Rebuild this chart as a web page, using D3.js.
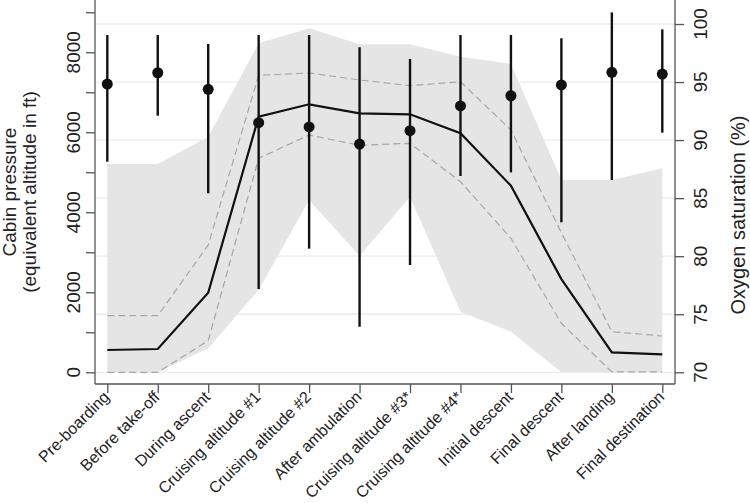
<!DOCTYPE html>
<html>
<head>
<meta charset="utf-8">
<script src="https://cdn.jsdelivr.net/npm/d3@7"></script>
<style>
  html, body { margin: 0; padding: 0; background: #fff; }
  text { font-family: "Liberation Sans", Arial, Helvetica, sans-serif; fill: #222; }
</style>
</head>
<body>
<svg id="chart" width="750" height="503"></svg>
<script>
// ---- data ----
const categories = ["Pre-boarding", "Before take-off", "During ascent", "Cruising altitude #1",
  "Cruising altitude #2", "After ambulation", "Cruising altitude #3*", "Cruising altitude #4*",
  "Initial descent", "Final descent", "After landing", "Final destination"];
// cabin pressure (equivalent altitude in ft)
const cabinMedian = [557, 582, 1990, 6390, 6700, 6475, 6450, 5975, 4665, 2330, 500, 450];
const cabinQ1     = [0, 0, 790, 5350, 5933, 5675, 5725, 4765, 3350, 1225, 10, 10];
const cabinQ3     = [1415, 1415, 3183, 7425, 7483, 7308, 7165, 7265, 6058, 3490, 1015, 908];
const cabinMin    = [0, 0, 600, 2058, 4308, 2908, 4390, 1515, 1015, 0, 0, 0];
const cabinMax    = [5208, 5208, 5890, 8225, 8600, 8200, 8200, 7890, 7708, 4808, 4808, 5100];
// oxygen saturation (%)
const spo2Mean = [94.83, 95.8, 94.37, 91.5, 91.13, 89.66, 90.81, 92.94, 93.82, 94.75, 95.84, 95.69];
const spo2Low  = [88.14, 92.1, 85.42, 77.17, 80.65, 73.93, 79.24, 86.91, 87.22, 82.92, 86.56, 90.64];
const spo2High = [99.05, 99.05, 98.28, 99.05, 99.05, 97.99, 96.99, 99.05, 99.05, 98.77, 101.0, 99.54];
const leftTicks = [0, 1000, 2000, 3000, 4000, 5000, 6000, 7000, 8000, 9000];
const leftTickLabels = [0, 2000, 4000, 6000, 8000];
const rightTicks = [70, 75, 80, 85, 90, 95, 100];

// ---- layout ----
const svg = d3.select("#chart");
const plotL = 95, plotR = 675, axisY = 384;
const x = d3.scalePoint().domain(categories).range([107.3, 662.3]);
const yL = d3.scaleLinear().domain([0, 9000]).range([372.3, 12.3]);
const yR = d3.scaleLinear().domain([70, 100]).range([372.3, 24]);

const rows = categories.map((c, i) => ({
  c, med: cabinMedian[i], q1: cabinQ1[i], q3: cabinQ3[i], mn: cabinMin[i], mx: cabinMax[i],
  m: spo2Mean[i], lo: spo2Low[i], hi: spo2High[i]
}));

// gridlines (right axis)
svg.append("g").selectAll("line").data(rightTicks).join("line")
  .attr("x1", plotL).attr("x2", plotR)
  .attr("y1", d => yR(d)).attr("y2", d => yR(d))
  .attr("stroke", "#ececec").attr("stroke-width", 1.3);

// band min-max
svg.append("path").datum(rows)
  .attr("d", d3.area().x(d => x(d.c)).y0(d => yL(d.mn)).y1(d => yL(d.mx)))
  .attr("fill", "#e5e5e5");

// dashed IQR lines
[ "q1", "q3" ].forEach(k => {
  svg.append("path").datum(rows)
    .attr("d", d3.line().x(d => x(d.c)).y(d => yL(d[k])))
    .attr("fill", "none").attr("stroke", "#a6a6a6").attr("stroke-width", 1.2)
    .attr("stroke-dasharray", "7,4");
});

// median line
svg.append("path").datum(rows)
  .attr("d", d3.line().x(d => x(d.c)).y(d => yL(d.med)))
  .attr("fill", "none").attr("stroke", "#111").attr("stroke-width", 2.2);

// error bars
svg.append("g").selectAll("line").data(rows).join("line")
  .attr("x1", d => x(d.c)).attr("x2", d => x(d.c))
  .attr("y1", d => yR(d.lo)).attr("y2", d => yR(d.hi))
  .attr("stroke", "#111").attr("stroke-width", 2.4);

// points
svg.append("g").selectAll("circle").data(rows).join("circle")
  .attr("cx", d => x(d.c)).attr("cy", d => yR(d.m)).attr("r", 5.5)
  .attr("fill", "#111");

// axes
const axisColor = "#555";
// left
const gl = svg.append("g").attr("transform", `translate(${plotL},0)`)
  .call(d3.axisLeft(yL).tickValues(leftTicks).tickSize(9).tickFormat(d => ""));
gl.select(".domain").attr("d", `M0,0V${axisY}`);
gl.selectAll("line, path").attr("stroke", axisColor).attr("stroke-width", 1.3);
svg.append("g").selectAll("text").data(leftTickLabels).join("text")
  .attr("transform", d => `translate(80,${yL(d)}) rotate(-90)`)
  .attr("text-anchor", "middle").attr("font-size", 19).text(d => d);

// right
const gr = svg.append("g").attr("transform", `translate(${plotR},0)`)
  .call(d3.axisRight(yR).tickValues(rightTicks).tickSize(9).tickFormat(d => ""));
gr.select(".domain").attr("d", `M0,0V${axisY}`);
gr.selectAll("line, path").attr("stroke", axisColor).attr("stroke-width", 1.3);
svg.append("g").selectAll("text").data(rightTicks).join("text")
  .attr("transform", d => `translate(707,${yR(d)}) rotate(-90)`)
  .attr("text-anchor", "middle").attr("font-size", 19).text(d => d);

// bottom
const gb = svg.append("g").attr("transform", `translate(0,${axisY})`)
  .call(d3.axisBottom(x).tickSize(9).tickFormat(d => ""));
gb.select(".domain").attr("d", `M${plotL},0H${plotR}`);
gb.selectAll("line, path").attr("stroke", axisColor).attr("stroke-width", 1.3);
svg.append("g").selectAll("text").data(categories).join("text")
  .attr("transform", d => `translate(${x(d) + 3},${axisY + 14}) rotate(-45)`)
  .attr("text-anchor", "end").attr("font-size", 16).text(d => d);

// titles
svg.append("text").attr("transform", "translate(16,192) rotate(-90)")
  .attr("text-anchor", "middle").attr("font-size", 19).text("Cabin pressure");
svg.append("text").attr("transform", "translate(36,192) rotate(-90)")
  .attr("text-anchor", "middle").attr("font-size", 19).text("(equivalent altitude in ft)");
svg.append("text").attr("transform", "translate(745,215) rotate(-90)")
  .attr("text-anchor", "middle").attr("font-size", 20).text("Oxygen saturation (%)");
</script>
</body>
</html>
